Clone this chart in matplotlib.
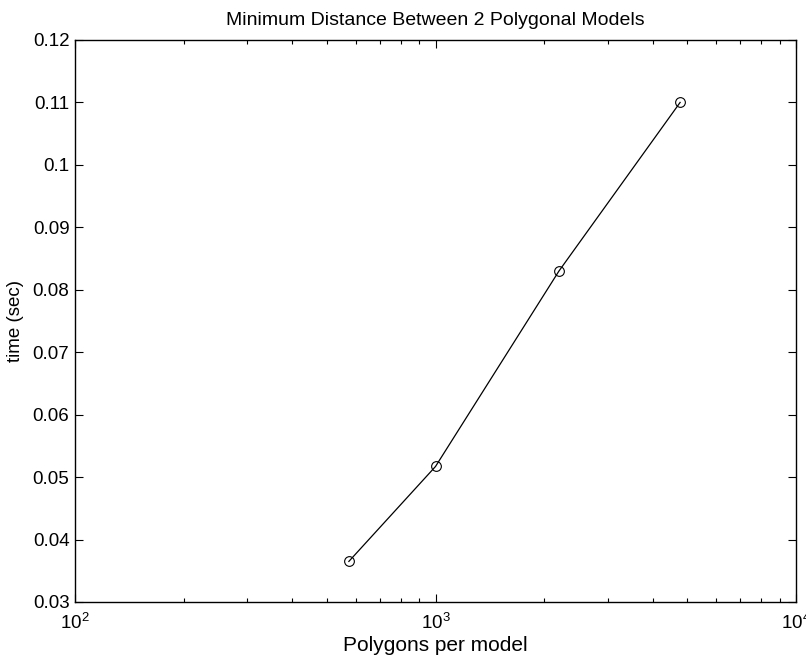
"""Minimum distance timing vs polygon count (MATLAB-style log plot)."""

import matplotlib
matplotlib.use("Agg")
import matplotlib.pyplot as plt
from matplotlib.ticker import LogLocator, FixedLocator

# values
polygons = [575, 1000, 2200, 4770]
time_sec = [0.0365, 0.0517, 0.0830, 0.1100]

yticks = [0.03, 0.04, 0.05, 0.06, 0.07, 0.08, 0.09, 0.10, 0.11, 0.12]
ytick_labels = ["0.03", "0.04", "0.05", "0.06", "0.07", "0.08", "0.09", "0.1", "0.11", "0.12"]

plt.rcParams["font.family"] = ["Liberation Sans", "DejaVu Sans"]
plt.rcParams["mathtext.fontset"] = "custom"
plt.rcParams["mathtext.rm"] = "Liberation Sans"
plt.rcParams["mathtext.it"] = "Liberation Sans"

fig = plt.figure(figsize=(8.06, 6.58), dpi=100)
ax = fig.add_axes([75 / 806, 1 - 602 / 658, 721 / 806, 562 / 658])

ax.plot(polygons, time_sec, color="black", linewidth=0.9,
        marker="o", markersize=7, markerfacecolor="none",
        markeredgecolor="black", markeredgewidth=0.8)

ax.set_xscale("log")
ax.set_xlim(1e2, 1e4)
ax.set_ylim(0.03, 0.12)
ax.yaxis.set_major_locator(FixedLocator(yticks))
ax.set_yticklabels(ytick_labels)
ax.xaxis.set_major_locator(LogLocator(base=10))
ax.xaxis.set_minor_locator(LogLocator(base=10, subs=range(2, 10)))

ax.tick_params(which="both", direction="in", top=True, right=True,
               labelsize=13.5, width=0.8, color="black")
ax.tick_params(which="major", length=6, pad=4)
ax.tick_params(axis="x", which="major", pad=8)
ax.tick_params(which="minor", length=3)
for s in ax.spines.values():
    s.set_linewidth(1.0)

ax.set_title("Minimum Distance Between 2 Polygonal Models", fontsize=14, pad=11)
ax.set_xlabel("Polygons per model", fontsize=15, labelpad=2)
ax.set_ylabel("time (sec)", fontsize=13.5, labelpad=6)

fig.savefig("out.png", dpi=100)
plt.close(fig)
